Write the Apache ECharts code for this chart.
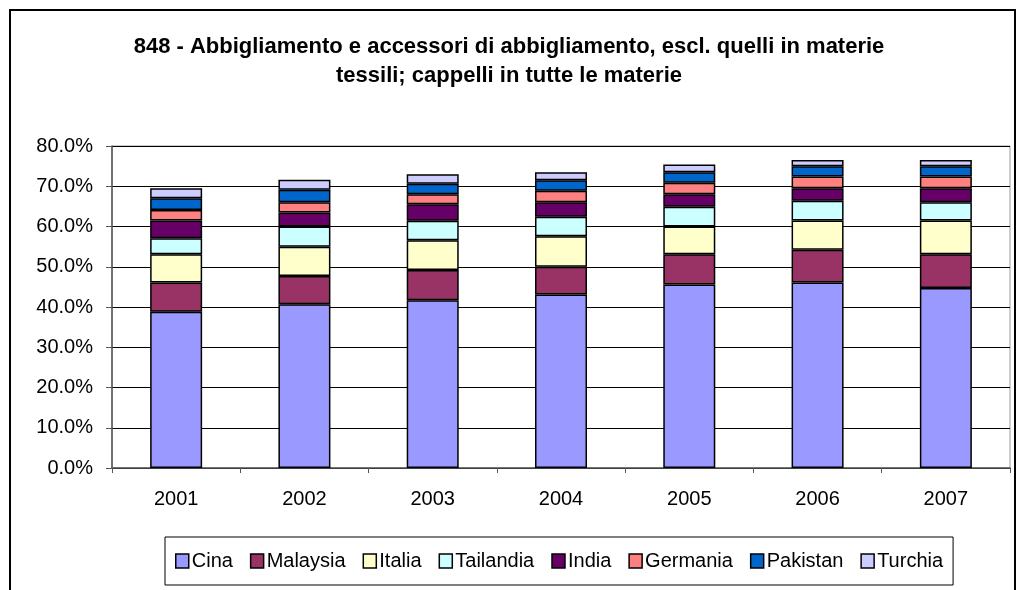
<!DOCTYPE html>
<html>
    <head>
        <meta charset="utf-8">
        <script src="https://cdn.jsdelivr.net/npm/echarts@6/dist/echarts.min.js"></script>
        <style type="text/css">
            #main {height:590px;width:1018px;position:absolute;}
            body {margin:0px;padding:0px;overflow:hidden;background:#fff;}
        </style>
    </head>
    <body>
        <div id="main"></div>
        <script type="text/javascript">
            // categories and values (percent share)
            let years = ['2001', '2002', '2003', '2004', '2005', '2006', '2007'];
            let yTicks = [0, 10, 20, 30, 40, 50, 60, 70, 80];
            let cina      = [38.8, 40.7, 41.7, 43.1, 45.6, 46.1, 44.7];
            let malaysia  = [7.3, 7.0, 7.5, 6.9, 7.5, 8.1, 8.4];
            let italia    = [7.0, 7.3, 7.4, 7.6, 6.9, 7.3, 8.4];
            let tailandia = [4.0, 5.0, 4.8, 4.8, 4.9, 4.9, 4.5];
            let india     = [4.4, 3.5, 4.1, 3.6, 3.1, 3.1, 3.5];
            let germania  = [2.6, 2.5, 2.5, 2.9, 2.9, 2.9, 2.9];
            let pakistan  = [2.9, 3.1, 2.6, 2.6, 2.6, 2.6, 2.6];
            let turchia   = [2.5, 2.5, 2.4, 2.0, 1.9, 1.5, 1.5];

            let names  = ['Cina', 'Malaysia', 'Italia', 'Tailandia', 'India', 'Germania', 'Pakistan', 'Turchia'];
            let values = [cina, malaysia, italia, tailandia, india, germania, pakistan, turchia];
            let colors = ['#9999ff', '#993366', '#ffffcc', '#ccffff', '#660066', '#ff8080', '#0066cc', '#ccccff'];

            let font = 'Arial, "Liberation Sans", sans-serif';
            let myChart = echarts.init(document.getElementById('main'));

            let series = [];
            for (let i = 0; i < names.length; i++) {
                series.push({
                    name: names[i],
                    type: 'bar',
                    stack: 'tot',
                    barWidth: 52,
                    data: values[i],
                    itemStyle: {color: colors[i], borderColor: '#000', borderWidth: 1.5}
                });
            }

            let option = {
                animation: false,
                backgroundColor: '#fff',
                color: colors,
                title: {
                    text: '848 - Abbigliamento e accessori di abbigliamento, escl. quelli in materie\ntessili; cappelli in tutte le materie',
                    left: 'center',
                    top: 27,
                    textStyle: {fontFamily: font, fontSize: 22, fontWeight: 'bold', color: '#000', lineHeight: 29}
                },
                graphic: [{
                    type: 'rect',
                    shape: {x: 10, y: 10, width: 1005, height: 600},
                    style: {fill: 'none', stroke: '#000', lineWidth: 2},
                    silent: true
                }],
                legend: {
                    data: names,
                    left: 165,
                    top: 537,
                    itemWidth: 13,
                    itemHeight: 14,
                    itemGap: 17,
                    padding: [14, 10, 14, 10],
                    borderColor: '#000',
                    borderWidth: 1,
                    icon: 'rect',
                    itemStyle: {borderColor: '#000', borderWidth: 1.5},
                    textStyle: {fontFamily: font, fontSize: 20, color: '#000', padding: [0, 0, 0, -2]}
                },
                grid: {left: 112, right: 8, top: 146, bottom: 122, show: true, borderColor: '#999', borderWidth: 1},
                xAxis: {
                    type: 'category',
                    data: years,
                    axisLine: {lineStyle: {color: '#555', width: 1.5}},
                    axisTick: {show: true, alignWithLabel: false, length: 5, lineStyle: {color: '#555'}},
                    axisLabel: {fontFamily: font, fontSize: 20, color: '#000', margin: 21}
                },
                yAxis: {
                    type: 'value',
                    min: yTicks[0],
                    max: yTicks[yTicks.length - 1],
                    interval: 10,
                    axisLine: {show: true, lineStyle: {color: '#555', width: 1.5}},
                    axisTick: {show: true, length: 6, lineStyle: {color: '#555'}},
                    axisLabel: {fontFamily: font, fontSize: 20, color: '#000', margin: 19,
                        formatter: function (v) { return v.toFixed(1) + '%'; }},
                    splitLine: {show: true, lineStyle: {color: '#000', width: 1}}
                },
                series: series
            };

            myChart.setOption(option);
            window.onresize = myChart.resize;
        </script>
    </body>
</html>
